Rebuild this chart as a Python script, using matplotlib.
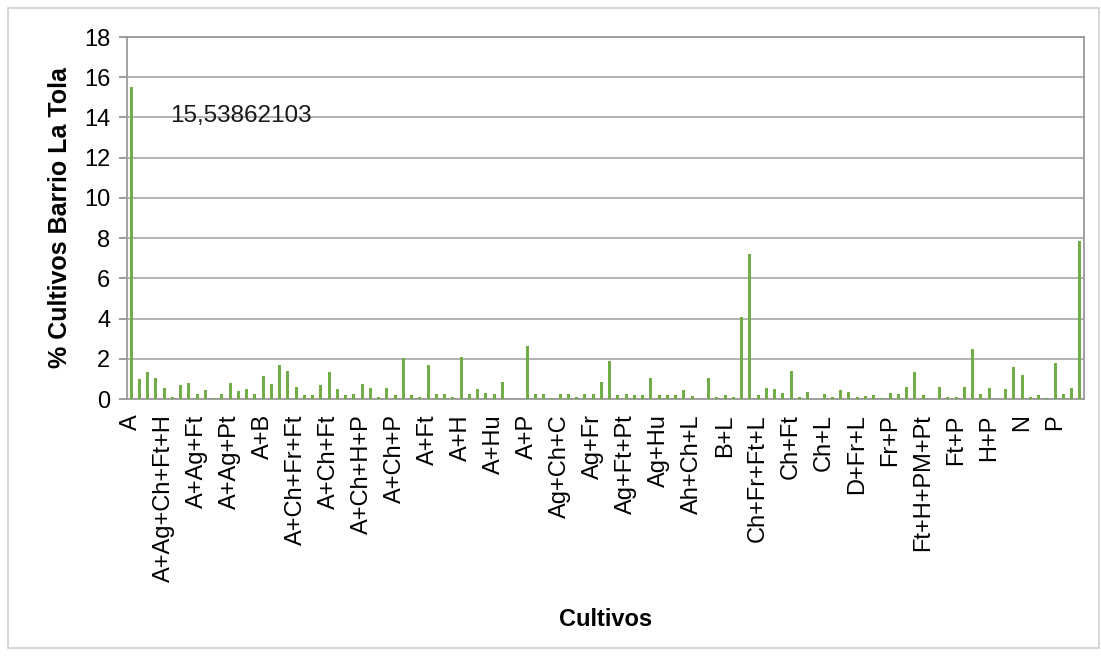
import matplotlib
matplotlib.use("Agg")
import matplotlib.pyplot as plt
from matplotlib.patches import Rectangle

plt.rcParams['font.family'] = ['Liberation Sans', 'DejaVu Sans']

# Every fourth crop label is shown on the axis
label_names = ["A", "A+Ag+Ch+Ft+H", "A+Ag+Ft", "A+Ag+Pt", "A+B", "A+Ch+Fr+Ft",
               "A+Ch+Ft", "A+Ch+H+P", "A+Ch+P", "A+Ft", "A+H", "A+Hu", "A+P",
               "Ag+Ch+C", "Ag+Fr", "Ag+Ft+Pt", "Ag+Hu", "Ah+Ch+L", "B+L",
               "Ch+Fr+Ft+L", "Ch+Ft", "Ch+L", "D+Fr+L", "Fr+P", "Ft+H+PM+Pt",
               "Ft+P", "H+P", "N", "P"]

# % of crops per category (Barrio La Tola)
values = [15.53862103, 1.0, 1.35, 1.05, 0.55, 0.12, 0.7, 0.8, 0.23, 0.45,
          0.07, 0.25, 0.82, 0.42, 0.52, 0.23, 1.15, 0.77, 1.68, 1.4,
          0.6, 0.22, 0.18, 0.7, 1.33, 0.5, 0.18, 0.23, 0.75, 0.55,
          0.1, 0.55, 0.18, 2.02, 0.22, 0.12, 1.7, 0.27, 0.25, 0.12,
          2.1, 0.25, 0.51, 0.28, 0.27, 0.86, 0.02, 0.0, 2.65, 0.27,
          0.27, 0.07, 0.27, 0.27, 0.1, 0.27, 0.27, 0.83, 1.87, 0.22,
          0.27, 0.18, 0.22, 1.05, 0.18, 0.22, 0.22, 0.47, 0.13, 0.0,
          1.06, 0.08, 0.19, 0.12, 4.08, 7.22, 0.21, 0.56, 0.5, 0.29,
          1.37, 0.08, 0.37, 0.0, 0.26, 0.12, 0.46, 0.36, 0.12, 0.16,
          0.21, 0.06, 0.29, 0.26, 0.6, 1.36, 0.21, 0.02, 0.58, 0.12,
          0.08, 0.6, 2.47, 0.25, 0.56, 0.0, 0.5, 1.6, 1.2, 0.08,
          0.19, 0.04, 1.8, 0.23, 0.56, 7.85]

y_ticks = [0, 2, 4, 6, 8, 10, 12, 14, 16, 18]
label_step = 4

W, H = 1101, 656
fig = plt.figure(figsize=(W / 100, H / 100), dpi=100)
ax = fig.add_axes([127 / W, 1 - 399 / H, (1084 - 127) / W, (399 - 37) / H])

n = len(values)
xs = list(range(n))
ax.bar(xs, values, width=0.38, color='#70AD47', zorder=3)

ax.set_xlim(-0.5, n - 0.5)
ax.set_ylim(0, 18)
ax.set_yticks(y_ticks)
ax.set_yticklabels([str(t) for t in y_ticks], fontsize=17)
ax.yaxis.grid(True, color='#a6a6a6', linewidth=1.2, zorder=0)

tick_pos = xs[::label_step]
ax.set_xticks(tick_pos)
ax.set_xticklabels(label_names, rotation=90, fontsize=17, ha='center', va='top')
ax.tick_params(axis='x', length=0, pad=11)
ax.tick_params(axis='y', length=6, width=1.2, color='#8c8c8c', pad=6)

for s in ax.spines.values():
    s.set_color('#9a9a9a')
    s.set_linewidth(1.3)

ax.set_xlabel('Cultivos', fontsize=17, fontweight='bold')
ax.xaxis.set_label_coords(0.5, (399 - 620) / 362)
ax.xaxis.label.set_va('center')
ax.set_ylabel('% Cultivos Barrio La Tola', fontsize=18, fontweight='bold')
ax.yaxis.set_label_coords((60 - 127) / 957, 0.5)
ax.yaxis.label.set_va('center')

# value label of the first bar
top_val = values[0]
ax.text(4.7, 14.05, f"{top_val:.8f}".replace('.', ','), fontsize=17.5,
        ha='left', va='center', color='#1a1a1a', zorder=4)

# outer chart frame
fig.patches.append(Rectangle((8 / W, 8 / H), (W - 10) / W, (H - 16) / H,
                             transform=fig.transFigure, fill=False,
                             edgecolor='#d0d0d0', linewidth=1.2))

fig.savefig('out.png', dpi=100)
